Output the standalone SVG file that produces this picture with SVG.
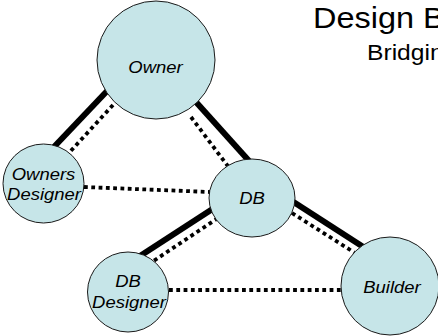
<svg xmlns="http://www.w3.org/2000/svg" width="438" height="336" viewBox="0 0 438 336">
  <style>
    .node { fill: #c6e5e8; stroke: #1a1a1a; stroke-width: 1; }
    .label { font-family: "Liberation Sans", Arial, sans-serif; font-style: italic; font-size: 16.5px; fill: #000; text-anchor: middle; }
    .title { font-family: "Liberation Sans", Arial, sans-serif; fill: #000; }
    .solid { stroke: #000; stroke-width: 6; fill: none; }
    .dotted { stroke: #000; stroke-width: 3.8; stroke-dasharray: 3.8 3.5; fill: none; }
  </style>
  <rect width="438" height="336" fill="#fff"/>

  <!-- heading -->
  <g id="heading">
    <text class="title" font-size="29" transform="translate(313,28) scale(1.12,1)">Design B</text>
    <text class="title" font-size="22" transform="translate(367,60) scale(1.12,1)">Bridgin</text>
  </g>

  <!-- connectors: solid contract lines with parallel dotted communication lines -->
  <g id="connectors">
    <line class="solid" x1="108" y1="90" x2="52" y2="149"/>
    <line class="dotted" x1="113" y1="105" x2="68" y2="154"/>

    <line class="solid" x1="196" y1="102" x2="250" y2="162"/>
    <line class="dotted" x1="191" y1="117" x2="230" y2="169"/>

    <line class="dotted" x1="84" y1="187" x2="210" y2="192"/>

    <line class="solid" x1="214" y1="208" x2="140" y2="256"/>
    <line class="dotted" x1="218" y1="218" x2="152" y2="262"/>

    <line class="solid" x1="292" y1="201" x2="368" y2="250"/>
    <line class="dotted" x1="292" y1="213" x2="355" y2="253"/>

    <line class="dotted" x1="169" y1="290" x2="341" y2="290"/>
  </g>

  <!-- nodes -->
  <g id="owner">
    <ellipse class="node" cx="156" cy="60" rx="59" ry="59"/>
    <text class="label" transform="translate(155.5,72.5) scale(1.12,1)">Owner</text>
  </g>
  <g id="owners-designer">
    <ellipse class="node" cx="43.5" cy="183.5" rx="40.5" ry="39.5"/>
    <text class="label" transform="translate(43.5,179.5) scale(1.12,1)">Owners</text>
    <text class="label" transform="translate(44,200) scale(1.12,1)">Designer</text>
  </g>
  <g id="db">
    <ellipse class="node" cx="252" cy="198" rx="43" ry="39"/>
    <text class="label" transform="translate(252,204) scale(1.12,1)">DB</text>
  </g>
  <g id="db-designer">
    <ellipse class="node" cx="128" cy="292" rx="40.5" ry="40"/>
    <text class="label" transform="translate(128,287) scale(1.12,1)">DB</text>
    <text class="label" transform="translate(129,307.5) scale(1.12,1)">Designer</text>
  </g>
  <g id="builder">
    <ellipse class="node" cx="390" cy="286" rx="49" ry="49"/>
    <text class="label" transform="translate(392,292.5) scale(1.12,1)">Builder</text>
  </g>
</svg>
